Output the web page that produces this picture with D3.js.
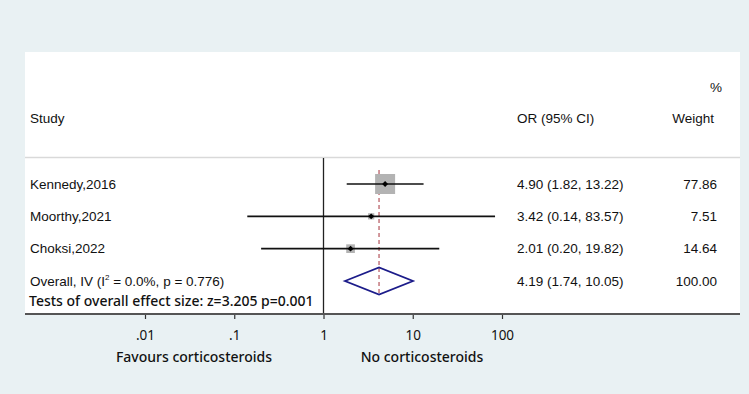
<!DOCTYPE html>
<html>
<head>
<meta charset="utf-8">
<script src="https://cdn.jsdelivr.net/npm/d3@7"></script>
<style>
  html, body { margin: 0; padding: 0; background: #e9f1f3; }
  svg { display: block; }
</style>
</head>
<body>
<div id="chart"></div>
<script>
// study data
const studies = ["Kennedy,2016", "Moorthy,2021", "Choksi,2022"];
const orValues = [4.90, 3.42, 2.01];
const ciLow = [1.82, 0.14, 0.20];
const ciHigh = [13.22, 83.57, 19.82];
const weights = [77.86, 7.51, 14.64];
const orLabels = ["4.90 (1.82, 13.22)", "3.42 (0.14, 83.57)", "2.01 (0.20, 19.82)"];
const weightLabels = ["77.86", "7.51", "14.64"];

// pooled estimate
const overall = { or: 4.19, lo: 1.74, hi: 10.05 };
const overallLabel = "4.19 (1.74, 10.05)";
const overallWeight = "100.00";

const tickValues = [0.01, 0.1, 1, 10, 100];
const tickLabels = [".01", ".1", "1", "10", "100"];

const W = 749, H = 394;
const sans = "'Liberation Sans', Arial, sans-serif";
const noto = "'Noto Sans', sans-serif";

const svg = d3.select("#chart")
    .append("svg")
    .attr("width", W)
    .attr("height", H);

// white plot panel
svg.append("rect")
    .attr("x", 25).attr("y", 52)
    .attr("width", 715).attr("height", 262)
    .attr("fill", "#ffffff");

const x = d3.scaleLog()
    .domain([0.01, 100])
    .range([145, 502]);

const rowNames = studies.concat(["Overall"]);
const y = d3.scalePoint()
    .domain(rowNames)
    .range([184, 281]);

// header separator
svg.append("line")
    .attr("x1", 25).attr("x2", 740)
    .attr("y1", 157.5).attr("y2", 157.5)
    .attr("stroke", "#d9d9d9")
    .attr("stroke-width", 1.5);

// headers
const head = svg.append("g")
    .attr("font-family", sans)
    .attr("font-size", 13.5)
    .attr("fill", "#111");
head.append("text").attr("x", 30).attr("y", 118).attr("dy", "0.35em").text("Study");
head.append("text").attr("x", 517).attr("y", 118).attr("dy", "0.35em").text("OR (95% CI)");
head.append("text").attr("x", 714).attr("y", 118).attr("dy", "0.35em").attr("text-anchor", "end").text("Weight");
head.append("text").attr("x", 722).attr("y", 87).attr("dy", "0.35em").attr("text-anchor", "end").text("%");

// no-effect line
svg.append("line")
    .attr("x1", x(1)).attr("x2", x(1))
    .attr("y1", 158).attr("y2", 313)
    .attr("stroke", "#222")
    .attr("stroke-width", 1.3);

// pooled estimate dashed line
svg.append("line")
    .attr("x1", x(overall.or)).attr("x2", x(overall.or))
    .attr("y1", 170).attr("y2", 296)
    .attr("stroke", "#b5545c")
    .attr("stroke-width", 1.2)
    .attr("stroke-dasharray", "4,3");

const data = studies.map((s, i) => ({
    name: s, or: orValues[i], lo: ciLow[i], hi: ciHigh[i],
    w: weights[i], orLabel: orLabels[i], wLabel: weightLabels[i]
}));

const maxW = d3.max(weights);
const side = d3.scaleSqrt().domain([0, maxW]).range([0, 20]);

// weight squares
svg.selectAll("rect.box")
    .data(data)
    .enter().append("rect")
    .attr("class", "box")
    .attr("x", d => x(d.or) - side(d.w) / 2)
    .attr("y", d => y(d.name) - side(d.w) / 2)
    .attr("width", d => side(d.w))
    .attr("height", d => side(d.w))
    .attr("fill", "#b3b3b3");

// confidence intervals
svg.selectAll("line.ci")
    .data(data)
    .enter().append("line")
    .attr("class", "ci")
    .attr("x1", d => x(d.lo))
    .attr("x2", d => x(d.hi))
    .attr("y1", d => y(d.name))
    .attr("y2", d => y(d.name))
    .attr("stroke", "#111")
    .attr("stroke-width", 1.6);

// point estimates
svg.selectAll("path.pt")
    .data(data)
    .enter().append("path")
    .attr("class", "pt")
    .attr("d", d3.symbol().type(d3.symbolDiamond2).size(22))
    .attr("transform", d => `translate(${x(d.or)},${y(d.name)})`)
    .attr("fill", "#000");

// overall diamond
const dy = 13.5;
const oy = y("Overall");
svg.append("path")
    .attr("d", `M${x(overall.lo)},${oy} L${x(overall.or)},${oy - dy} L${x(overall.hi)},${oy} L${x(overall.or)},${oy + dy} Z`)
    .attr("fill", "none")
    .attr("stroke", "#1c1c8a")
    .attr("stroke-width", 1.8);

// row text
const txt = svg.append("g")
    .attr("font-family", sans)
    .attr("font-size", 13.5)
    .attr("fill", "#111");

data.forEach(d => {
    txt.append("text").attr("x", 30).attr("y", y(d.name)).attr("dy", "0.35em").text(d.name);
    txt.append("text").attr("x", 517).attr("y", y(d.name)).attr("dy", "0.35em").text(d.orLabel);
    txt.append("text").attr("x", 717).attr("y", y(d.name)).attr("dy", "0.35em").attr("text-anchor", "end").text(d.wLabel);
});

const ov = txt.append("text").attr("x", 30).attr("y", oy).attr("dy", "0.35em");
ov.append("tspan").text("Overall, IV (I");
ov.append("tspan").attr("font-size", 8).attr("dy", -6).text("2");
ov.append("tspan").attr("dy", 6).text(" = 0.0%, p = 0.776)");
txt.append("text").attr("x", 517).attr("y", oy).attr("dy", "0.35em").text(overallLabel);
txt.append("text").attr("x", 717).attr("y", oy).attr("dy", "0.35em").attr("text-anchor", "end").text(overallWeight);

svg.append("text")
    .attr("x", 29).attr("y", 301).attr("dy", "0.35em")
    .attr("font-family", noto)
    .attr("font-size", 14)
    .attr("font-weight", 500)
    .attr("fill", "#111")
    .text("Tests of overall effect size: z=3.205 p=0.001");

// x axis
const axis = svg.append("g")
    .attr("transform", "translate(0,314)")
    .call(d3.axisBottom(x)
        .tickValues(tickValues)
        .tickFormat((d, i) => tickLabels[i])
        .tickSize(5)
        .tickPadding(11));
axis.select(".domain").remove();
axis.selectAll(".tick line").attr("stroke", "#333").attr("stroke-width", 1.2);
axis.selectAll(".tick text")
    .attr("font-family", noto)
    .attr("font-size", 13.5)
    .attr("fill", "#111");

svg.append("line")
    .attr("x1", 25).attr("x2", 740)
    .attr("y1", 314).attr("y2", 314)
    .attr("stroke", "#555")
    .attr("stroke-width", 2);

// axis subtitles
const sub = svg.append("g")
    .attr("font-family", noto)
    .attr("font-size", 14)
    .attr("font-weight", 500)
    .attr("fill", "#111")
    .attr("text-anchor", "middle");
sub.append("text").attr("x", 194).attr("y", 357).attr("dy", "0.35em").text("Favours corticosteroids");
sub.append("text").attr("x", 422).attr("y", 357).attr("dy", "0.35em").text("No corticosteroids");
</script>
</body>
</html>
